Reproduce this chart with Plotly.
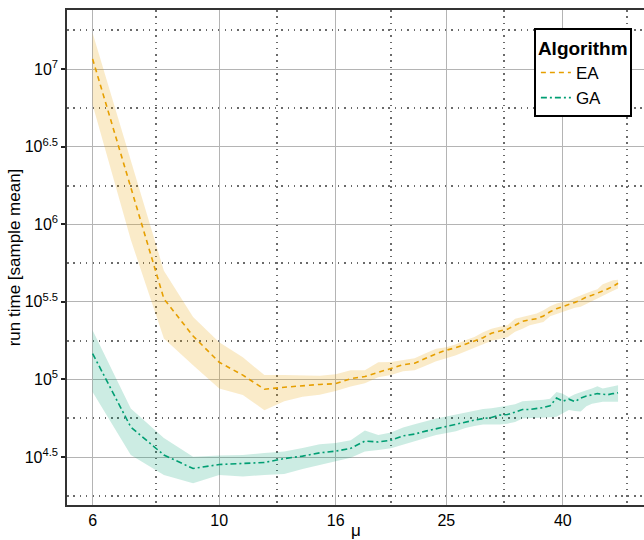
import plotly.graph_objects as go

# Population size mu
mu = list(range(6, 51))

# log10 of run time (sample mean) and its band, EA
ea_log_mean = [7.066, 6.23, 5.52, 5.28, 5.111, 5.028, 4.937, 4.95, 4.96, 4.968,
               4.973, 5.005, 5.019, 5.047, 5.073, 5.095, 5.105, 5.137, 5.166, 5.189,
               5.205, 5.227, 5.25, 5.269, 5.298, 5.311, 5.324, 5.349, 5.375, 5.385,
               5.391, 5.409, 5.436, 5.456, 5.468, 5.481, 5.496, 5.512, 5.531, 5.542,
               5.555, 5.568, 5.584, 5.6, 5.62]
ea_log_upper = [7.233, 6.41, 5.70, 5.403, 5.24, 5.143, 5.028, 5.028, 5.024, 5.024,
                5.034, 5.06, 5.06, 5.111, 5.113, 5.124, 5.137, 5.169, 5.198, 5.208,
                5.227, 5.253, 5.274, 5.304, 5.327, 5.34, 5.349, 5.391, 5.404, 5.414,
                5.425, 5.446, 5.472, 5.489, 5.497, 5.507, 5.526, 5.542, 5.555, 5.57,
                5.581, 5.613, 5.626, 5.639, 5.643]
ea_log_lower = [6.77, 5.90, 5.264, 5.092, 4.942, 4.90, 4.802, 4.86, 4.889, 4.902,
                4.925, 4.954, 4.976, 5.015, 5.028, 5.053, 5.06, 5.089, 5.118, 5.137,
                5.156, 5.182, 5.205, 5.227, 5.25, 5.259, 5.272, 5.308, 5.327, 5.349,
                5.362, 5.371, 5.407, 5.423, 5.436, 5.449, 5.462, 5.468, 5.488, 5.505,
                5.52, 5.539, 5.555, 5.571, 5.586]

# log10 of run time (sample mean) and its band, GA
ga_log_mean = [5.167, 4.693, 4.513, 4.426, 4.452, 4.458, 4.465, 4.49, 4.506, 4.527,
               4.538, 4.556, 4.603, 4.597, 4.609, 4.637, 4.648, 4.667, 4.683, 4.698,
               4.712, 4.725, 4.738, 4.748, 4.755, 4.77, 4.774, 4.79, 4.806, 4.807,
               4.812, 4.819, 4.831, 4.88, 4.86, 4.873, 4.857, 4.88, 4.893, 4.899,
               4.909, 4.905, 4.902, 4.909, 4.914]
ga_log_upper = [5.317, 4.813, 4.622, 4.502, 4.51, 4.513, 4.526, 4.535, 4.558, 4.583,
                4.59, 4.608, 4.671, 4.642, 4.658, 4.69, 4.712, 4.732, 4.748, 4.761,
                4.773, 4.786, 4.799, 4.809, 4.815, 4.822, 4.831, 4.84, 4.86, 4.862,
                4.866, 4.869, 4.876, 4.92, 4.908, 4.885, 4.905, 4.92, 4.931, 4.941,
                4.957, 4.942, 4.95, 4.96, 4.963]
ga_log_lower = [4.92, 4.513, 4.384, 4.331, 4.384, 4.375, 4.384, 4.39, 4.423, 4.449,
                4.475, 4.495, 4.535, 4.545, 4.556, 4.58, 4.6, 4.622, 4.642, 4.654,
                4.667, 4.687, 4.7, 4.709, 4.71, 4.71, 4.715, 4.726, 4.749, 4.749,
                4.751, 4.754, 4.757, 4.759, 4.783, 4.803, 4.796, 4.793, 4.828, 4.844,
                4.85, 4.856, 4.856, 4.856, 4.856]

x_tick_vals = [6, 10, 16, 25, 40]
x_tick_text = ["6", "10", "16", "25", "40"]
x_minor_vals = [7.75, 12.65, 20, 31.6, 51.8]
y_tick_exps = [4.5, 5, 5.5, 6, 6.5, 7]
y_minor_exps = [4.25, 4.75, 5.25, 5.75, 6.25, 6.75, 7.25]

EA_COLOR = "#E69F00"
GA_COLOR = "#009E73"
FONT = "Liberation Sans, Arial, Helvetica, sans-serif"


def pw(vals):
    return [10 ** v for v in vals]


fig = go.Figure()

series = [
    ("EA", ea_log_mean, ea_log_upper, ea_log_lower, EA_COLOR,
     "rgba(230,159,0,0.21)", "5px,4px"),
    ("GA", ga_log_mean, ga_log_upper, ga_log_lower, GA_COLOR,
     "rgba(0,158,115,0.20)", "6px,3px,2px,3px"),
]

for name, mean, upper, lower, color, fillc, dash in series:
    fig.add_trace(go.Scatter(
        x=mu + mu[::-1],
        y=pw(upper) + pw(lower)[::-1],
        fill="toself", fillcolor=fillc,
        line=dict(width=0), mode="lines",
        hoverinfo="skip", showlegend=False,
    ))

for name, mean, upper, lower, color, fillc, dash in series:
    fig.add_trace(go.Scatter(
        x=mu, y=pw(mean), mode="lines", name=name,
        line=dict(color=color, width=1.6, dash=dash),
    ))

grid_major = "#b4b4b4"
grid_minor = "#6a6a6a"

fig.update_layout(
    width=644, height=540,
    margin=dict(l=67, r=0, t=10, b=35),
    paper_bgcolor="white", plot_bgcolor="white",
    font=dict(family=FONT, size=16, color="black"),
    legend=dict(
        title=dict(text="<b>Algorithm</b>", font=dict(size=19)),
        font=dict(size=17),
        x=0.979, y=0.963, xanchor="right", yanchor="top",
        bordercolor="black", borderwidth=2, bgcolor="white",
        itemwidth=30, tracegroupgap=0,
    ),
    xaxis=dict(
        type="log", range=[0.7333, 1.7444],
        tickmode="array", tickvals=x_tick_vals, ticktext=x_tick_text,
        showgrid=True, gridcolor=grid_major, gridwidth=1,
        minor=dict(tickmode="array", tickvals=x_minor_vals, showgrid=True,
                   gridcolor=grid_minor, gridwidth=1.5, griddash="1.5px,4.8px",
                   ticks=""),
        showline=True, linecolor="#333333", linewidth=1.5, mirror=True,
        ticks="", zeroline=False,
        tickfont=dict(size=16),
    ),
    yaxis=dict(
        type="log", range=[4.191, 7.381],
        tickmode="array", tickvals=pw(y_tick_exps),
        ticktext=["10<sup>%g</sup>" % e for e in y_tick_exps],
        showgrid=True, gridcolor=grid_major, gridwidth=1,
        minor=dict(tickmode="array", tickvals=pw(y_minor_exps), showgrid=True,
                   gridcolor=grid_minor, gridwidth=1.5, griddash="1.5px,4.8px",
                   ticks=""),
        showline=True, linecolor="#333333", linewidth=1.5, mirror=False,
        ticks="outside", ticklen=4, tickwidth=1.5, tickcolor="#222222",
        zeroline=False,
        title=dict(text="run time [sample mean]", font=dict(size=17), standoff=0),
        tickfont=dict(size=16),
    ),
)

# x-axis label, set close under the tick labels
fig.add_annotation(
    text="μ", xref="paper", yref="paper", x=0.5, y=-0.0525,
    xanchor="center", yanchor="middle", showarrow=False,
    font=dict(family=FONT, size=17, color="black"),
)

fig.write_html("out.html")
